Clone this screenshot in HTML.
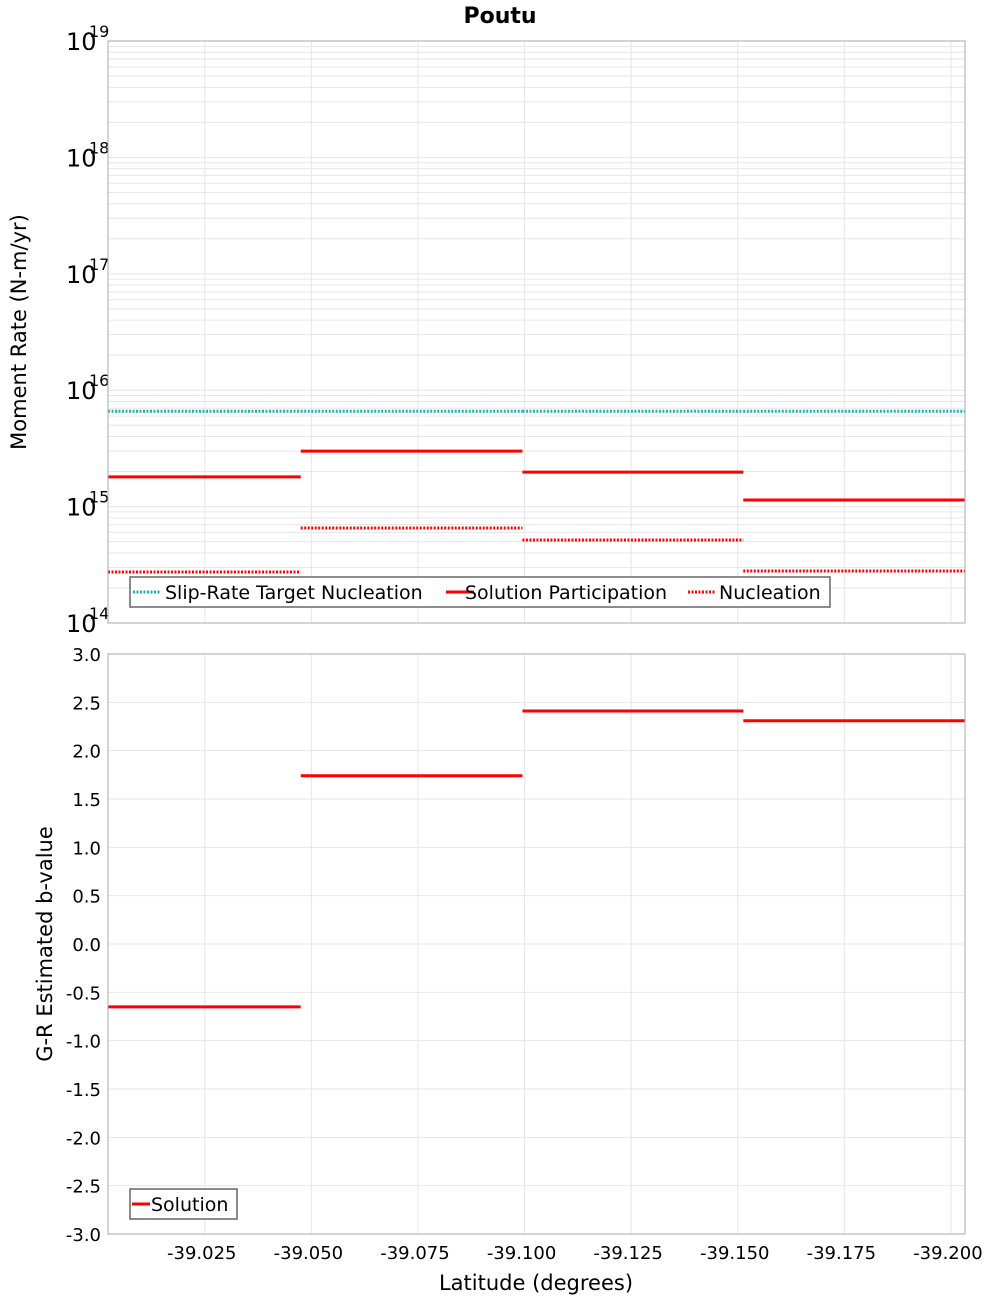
<!DOCTYPE html>
<html><head><meta charset="utf-8"><style>
body{margin:0;background:#fff;}
svg{display:block;font-family:"DejaVu Sans","Liberation Sans",sans-serif;}
</style></head><body>
<svg id="chart" width="1000" height="1300" xmlns="http://www.w3.org/2000/svg">
<text x="500" y="23" text-anchor="middle" font-size="22" font-weight="bold">Poutu</text>
<g id="topPlot"></g>
<g id="botPlot"></g>
<text transform="translate(26,332) rotate(-90)" text-anchor="middle" font-size="21">Moment Rate (N-m/yr)</text>
<text transform="translate(52,944) rotate(-90)" text-anchor="middle" font-size="21">G-R Estimated b-value</text>
<text x="536" y="1290" text-anchor="middle" font-size="21">Latitude (degrees)</text>
</svg>
<script>
const boundaries=[-39.0023,-39.0475,-39.0995,-39.1513,-39.2033];
const targetNucleation=[6.6e15,6.6e15,6.6e15,6.6e15];
const solutionParticipation=[1.8e15,3.0e15,1.98e15,1.14e15];
const nucleation=[2.74e14,6.55e14,5.16e14,2.8e14];
const bValues=[-0.65,1.74,2.41,2.31];
const xTicks=[-39.025,-39.05,-39.075,-39.1,-39.125,-39.15,-39.175,-39.2];
const xTickLabels=["-39.025","-39.050","-39.075","-39.100","-39.125","-39.150","-39.175","-39.200"];
const logDecades=[14,15,16,17,18,19];
const bTicks=[3,2.5,2,1.5,1,0.5,0,-0.5,-1,-1.5,-2,-2.5,-3];

const NS="http://www.w3.org/2000/svg";
const L=108,R=965;
const xs=v=>L+(v-boundaries[0])/(boundaries[4]-boundaries[0])*(R-L);
const T1=41,B1=623;
const ylog=v=>B1-(Math.log10(v)-14)/5*(B1-T1);
const T2=654,B2=1234;
const ylin=v=>B2-(v+3)/6*(B2-T2);
function mk(parent,tag,attrs){const e=document.createElementNS(NS,tag);for(const k in attrs)e.setAttribute(k,attrs[k]);parent.appendChild(e);return e;}
const gTop=document.getElementById('topPlot'),gBot=document.getElementById('botPlot');

for(let d=14;d<19;d++){for(let m=1;m<10;m++){const y=ylog(m*Math.pow(10,d));
 const g=mk(gTop,'line',{x1:L,x2:R,y1:y,y2:y,stroke:'#e6e6e6','stroke-width':1});
 
 }}
for(const t of xTicks){const x=xs(t);
 const g=mk(gTop,'line',{x1:x,x2:x,y1:T1,y2:B1,stroke:'#e6e6e6'});
 
 
 const g2=mk(gBot,'line',{x1:x,x2:x,y1:T2,y2:B2,stroke:'#e6e6e6'});
 
 }
for(const b of bTicks){const y=ylin(b);
 const g=mk(gBot,'line',{x1:L,x2:R,y1:y,y2:y,stroke:'#e6e6e6'});
 
 
 const t=mk(gBot,'text',{x:101,y:y+7,'text-anchor':'end','font-size':18});
 t.textContent=b.toFixed(1);
 
 }
for(const d of logDecades){const y=ylog(Math.pow(10,d));
 const t=mk(gTop,'text',{x:66,y:y+9,'font-size':24});
 t.textContent='10';
 
 
 const s=mk(gTop,'text',{x:89,y:y-4,'font-size':16});
 s.textContent=String(d);
 
 }
xTicks.forEach((t,i)=>{const e=mk(gBot,'text',{x:xs(t)-3,y:1259,'text-anchor':'middle','font-size':18});
 e.textContent=xTickLabels[i];
 
 });

function series(parent,vals,yf,color,dash,name){
 for(let i=0;i<vals.length;i++){
  const a={x1:xs(boundaries[i]),x2:xs(boundaries[i+1]),y1:yf(vals[i]),y2:yf(vals[i]),stroke:color,'stroke-width':3};
  if(dash)a['stroke-dasharray']='2,1.5';
  const e=mk(parent,'line',a);
  
  }}
series(gTop,targetNucleation,ylog,'#20b2b2',true,'target-nucleation-segment');
series(gTop,solutionParticipation,ylog,'#ff0000',false,'solution-participation-segment');
series(gTop,nucleation,ylog,'#ff0000',true,'nucleation-segment');
series(gBot,bValues,ylin,'#ff0000',false,'b-value-segment');

const f1=mk(gTop,'rect',{x:L,y:T1,width:R-L,height:B1-T1,fill:'none',stroke:'#aaa'});


const f2=mk(gBot,'rect',{x:L,y:T2,width:R-L,height:B2-T2,fill:'none',stroke:'#aaa'});



const lg=mk(gTop,'g',{});


mk(lg,'rect',{x:130,y:577,width:700,height:30,fill:'#fff',stroke:'#666','stroke-width':1.5});
const items=[[133,'#20b2b2',true,'Slip-Rate Target Nucleation',165],[446,'#ff0000',false,'Solution Participation',465],[688,'#ff0000',true,'Nucleation',719]];
for(const it of items){
 const a={x1:it[0],x2:it[0]+28,y1:592,y2:592,stroke:it[1],'stroke-width':3};
 if(it[2])a['stroke-dasharray']='2,1.5';
 const ln=mk(lg,'line',a);
 
 
 const t=mk(lg,'text',{x:it[4],y:599,'font-size':19});
 t.textContent=it[3];
 
 }
const lg2=mk(gBot,'g',{});


mk(lg2,'rect',{x:130,y:1189,width:107,height:30,fill:'#fff',stroke:'#666','stroke-width':1.5});
const sw=mk(lg2,'line',{x1:132,x2:150,y1:1204,y2:1204,stroke:'#ff0000','stroke-width':3});


const st=mk(lg2,'text',{x:151,y:1211,'font-size':19});
st.textContent='Solution';


</script>
</body></html>
